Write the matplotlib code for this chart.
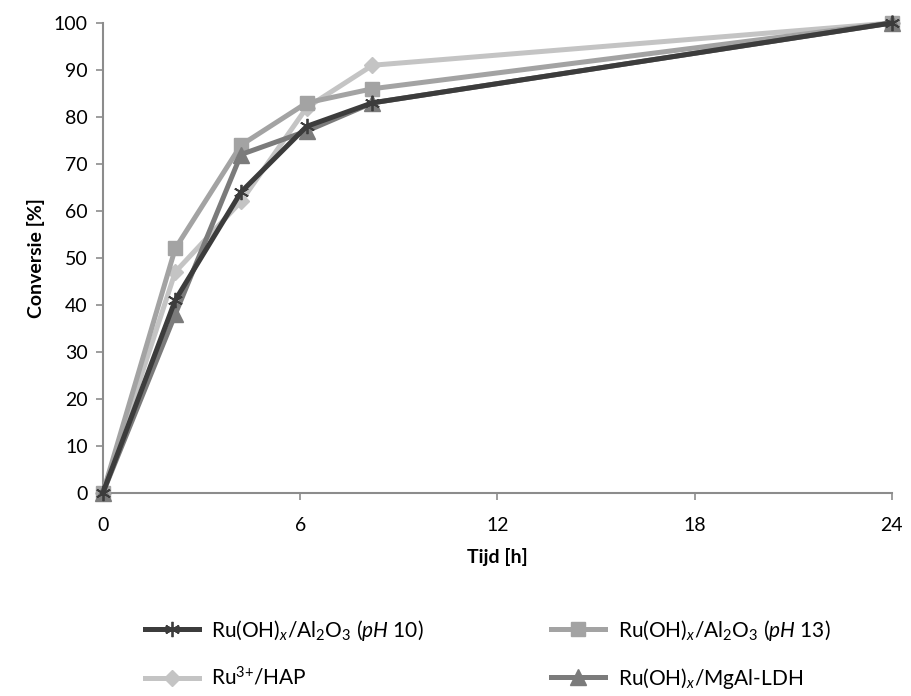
import matplotlib
matplotlib.use('Agg')
import matplotlib.pyplot as plt

plt.rcParams['font.family'] = 'Lato'
plt.rcParams['mathtext.fontset'] = 'custom'
plt.rcParams['mathtext.rm'] = 'Lato'
plt.rcParams['mathtext.it'] = 'Lato:italic'

# time points [h]
tijd = [0, 2.2, 4.2, 6.2, 8.2, 24]

# conversion [%] per catalyst
ph10 = [0, 41, 64, 78, 83, 100]
ph13 = [0, 52, 74, 83, 86, 100]
hap = [0, 47, 62, 82, 91, 100]
ldh = [0, 38, 72, 77, 83, 100]

labels = [r'Ru(OH)$_x$/Al$_2$O$_3$ ($pH$ 10)',
          r'Ru(OH)$_x$/Al$_2$O$_3$ ($pH$ 13)',
          r'Ru$^{3{+}}$/HAP',
          r'Ru(OH)$_x$/MgAl-LDH']

fig = plt.figure(figsize=(9.11, 6.96), dpi=100)
ax = fig.add_axes([0.113, 0.292, 0.866, 0.675])

kw = dict(lw=3.6, clip_on=False)
l1, = ax.plot(tijd, ph10, color='#3c3c3c', marker=(6, 2, 0), ms=11, mew=1.3, mec='#3c3c3c', zorder=5, **kw)
l2, = ax.plot(tijd, ph13, color='#a3a3a3', marker='s', ms=10, zorder=3, **kw)
l3, = ax.plot(tijd, hap, color='#c4c4c4', marker='D', ms=8, zorder=2, **kw)
l4, = ax.plot(tijd, ldh, color='#7b7b7b', marker='^', ms=11, zorder=4, **kw)

ax.set_xlim(0, 24)
ax.set_ylim(0, 100)
ax.set_xticks([0, 6, 12, 18, 24])
ax.set_yticks(range(0, 101, 10))
ax.spines['top'].set_visible(False)
ax.spines['right'].set_visible(False)
for s in ['left', 'bottom']:
    ax.spines[s].set_color('#8c8c8c')
    ax.spines[s].set_linewidth(1.5)
ax.tick_params(direction='out', color='#8c8c8c', width=1.2, length=5, labelsize=14, pad=6)
for lab in ax.get_xticklabels():
    lab.set_y(-0.02)
ax.set_xlabel('Tijd [h]', fontsize=14, fontweight='bold', labelpad=10)
ax.set_ylabel('Conversie [%]', fontsize=14, fontweight='bold', labelpad=6)

# legend filled row-wise like the original
fig.legend([l1, l3, l2, l4], [labels[0], labels[2], labels[1], labels[3]],
           loc='center', bbox_to_anchor=(0.535, 0.06), ncol=2,
           frameon=False, fontsize=15, handlelength=2.6, columnspacing=6.1, labelspacing=1.1,
           handletextpad=0.6)

fig.savefig('out.png', dpi=100)
